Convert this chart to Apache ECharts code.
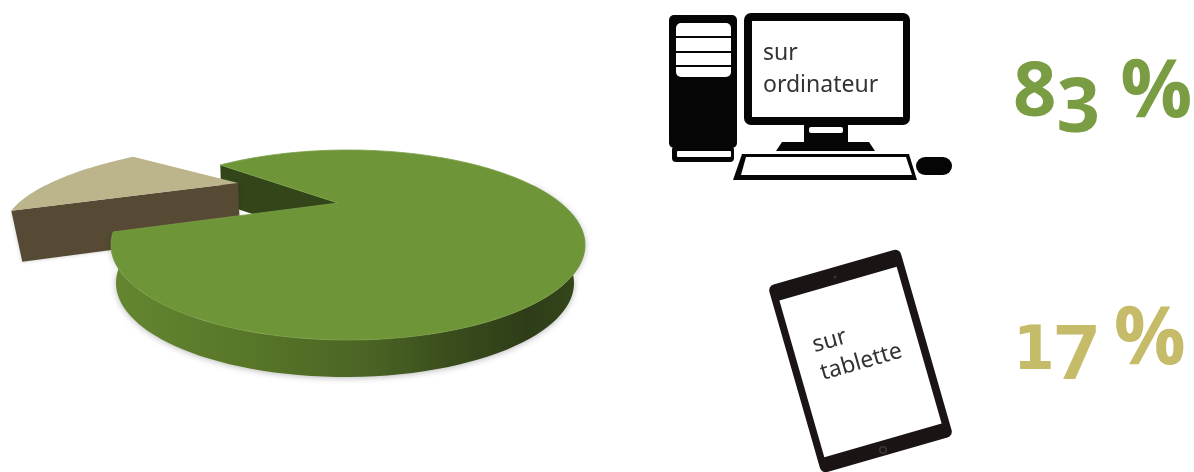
<!DOCTYPE html>
<html>
<head>
<meta charset="utf-8">
<style>html,body{margin:0;padding:0;background:#fff}#chart{width:1194px;height:472px}</style>
<script src="https://cdn.jsdelivr.net/npm/echarts@6/dist/echarts.min.js"></script>
</head>
<body>
<div id="chart"></div>
<script>
// Share of use per device
const devices = ['sur\nordinateur', 'sur\ntablette'];
const shares = [83, 17];
const percentColors = ['#7a9c42', '#c5bb68'];

// Perspective disc: top ellipse, bottom ellipse, and where the disc centre lands
const topRim = { cx: 348, cy: 245, rx: 237, ry: 95 };
const bottomRim = { cx: 345, cy: 283, rx: 229, ry: 94 };
const pull = [-0.042, -0.442];
const startDeg = 222;

// Moves a point of the unit disc so its centre lands on `pull` (projective disc map)
function project(a, rim) {
  const p = [Math.cos(a), Math.sin(a)];
  const d = pull[0] * p[0] + pull[1] * p[1];
  const g = 1 / Math.sqrt(1 - pull[0] * pull[0] - pull[1] * pull[1]);
  const k = g / (1 + g) * d + 1;
  const q = [(pull[0] * k + p[0] / g) / (1 + d), (pull[1] * k + p[1] / g) / (1 + d)];
  return [rim.cx + rim.rx * q[0], rim.cy + rim.ry * q[1]];
}
function apexOf(rim) {
  return [rim.cx + rim.rx * pull[0], rim.cy + rim.ry * pull[1]];
}
function arc(fromDeg, toDeg, rim) {
  const out = [];
  const n = Math.ceil(Math.abs(toDeg - fromDeg) / 2);
  for (let i = 0; i <= n; i++) {
    out.push(project((fromDeg + (toDeg - fromDeg) * i / n) * Math.PI / 180, rim));
  }
  return out;
}

// The pulled-out slice sits further left, flatter and slightly sheared
const sliceOffset = [-100, -20];
const sliceShear = [0.975, -0.261, -0.0245, 0.766];
function moveSlice(pt) {
  const a = apexOf(topRim);
  const x = pt[0] - a[0], y = pt[1] - a[1];
  return [a[0] + sliceOffset[0] + sliceShear[0] * x + sliceShear[1] * y,
          a[1] + sliceOffset[1] + sliceShear[2] * x + sliceShear[3] * y];
}

function renderSlice(params, api) {
  const before = shares.slice(0, params.dataIndex).reduce((s, v) => s + v, 0);
  const total = shares.reduce((s, v) => s + v, 0);
  const from = startDeg + before / total * 360;
  const to = from + api.value(0) / total * 360;
  const apex = apexOf(topRim);
  const children = [];
  const poly = (points, fill, z2, extra) => ({
    type: 'polygon', z2, shape: { points }, style: Object.assign({ fill }, extra || {})
  });

  if (params.dataIndex === 0) {
    // Inner wall of the notch, then the outer wall, then the top face
    children.push(poly([project(from * Math.PI / 180, topRim), apex, apexOf(bottomRim),
      project(from * Math.PI / 180, bottomRim)], '#33461a', 1));
    const wallTop = arc(-14, to - 360, topRim);
    const wallBottom = arc(-14, to - 360, bottomRim).reverse();
    children.push(poly(wallTop.concat(wallBottom), '#4f6a25', 4, {
      fill: new echarts.graphic.LinearGradient(0, 0, 1, 0, [
        { offset: 0, color: '#648630' },
        { offset: 0.3, color: '#577628' },
        { offset: 0.55, color: '#4a6324' },
        { offset: 0.72, color: '#394d1c' },
        { offset: 0.88, color: '#2e3d18' },
        { offset: 1, color: '#35481b' }
      ]),
      shadowColor: 'rgba(0,0,0,0.28)', shadowBlur: 6, shadowOffsetY: 1
    }));
    children.push(poly(arc(from, to, topRim).concat([apex]), '#6f9539', 5, {
      stroke: '#7b9f46', lineWidth: 0.8
    }));
  } else {
    // Side face first so the top face overlaps its edge
    const outer = moveSlice(project(from * Math.PI / 180, topRim));
    const tip = moveSlice(apex);
    children.push(poly([outer, tip, [tip[0] + 2, tip[1] + 50], [outer[0] + 11, outer[1] + 51]],
      '#564a35', 2, { shadowColor: 'rgba(0,0,0,0.2)', shadowBlur: 4 }));
    children.push(poly(arc(from, to, topRim).map(moveSlice).concat([tip]), '#bcb48b', 3));
  }
  return { type: 'group', children };
}

const black = '#050505';
const white = '#ffffff';
const box = (x, y, width, height, r, fill) => ({
  type: 'rect', shape: { x, y, width, height, r }, style: { fill }
});
const shape = (points, fill) => ({ type: 'polygon', shape: { points }, style: { fill } });

const desktopIcon = [
  box(669, 15, 68, 133, 5, black),
  box(672, 146, 62, 16, 4, black),
  box(677, 151, 54, 6, 1, white),
  box(676, 23, 55, 54, 5, white),
  box(676, 36, 55, 2, 0, black),
  box(676, 51, 55, 2, 0, black),
  box(676, 65, 55, 2, 0, black),
  box(744, 13, 166, 112, 7, black),
  box(752, 21, 151, 96, 0, white),
  box(804, 124, 44, 19, 0, black),
  box(809, 127, 34, 6, 2, white),
  shape([[782, 142], [869, 142], [875, 151], [776, 151]], black),
  shape([[742, 154], [909, 154], [917, 180], [733, 180]], black),
  shape([[746, 157], [906, 157], [912, 175], [741, 175]], white),
  box(916, 157, 36, 18, 9, black)
];

const tabletTilt = 16 * Math.PI / 180;
const tilted = (cx, cy, w, h, r, fill) => ({
  type: 'rect', x: cx, y: cy, rotation: tabletTilt,
  shape: { x: -w / 2, y: -h / 2, width: w, height: h, r }, style: { fill }
});
const tabletIcon = [
  tilted(860.5, 361, 137, 195, 6, '#1a1414'),
  tilted(860.5, 362, 122, 163, 0, white),
  { type: 'circle', shape: { cx: 835, cy: 277, r: 1.5 }, style: { fill: '#3a3434' } },
  { type: 'circle', shape: { cx: 883, cy: 450, r: 4 }, style: { fill: '#3d3636' } },
  { type: 'circle', shape: { cx: 883, cy: 450, r: 2.4 }, style: { fill: '#1a1414' } }
];

const captionFont = '"Noto Sans", sans-serif';
const captions = [
  { type: 'text', x: 763, y: 37, style: {
    text: devices[0], fill: '#333', font: '23px ' + captionFont, lineHeight: 32 } },
  { type: 'text', x: 809, y: 332, rotation: tabletTilt, style: {
    text: devices[1], fill: '#333', font: '23px ' + captionFont, lineHeight: 29 } }
];

// Old-style figures: each digit sits on its own height in the line
const figure = { fontFamily: '"Open Sans"', fontWeight: 'bold', lineHeight: 76 };
const richFor = (fill) => ({
  up: Object.assign({}, figure, { fill, fontSize: 76, height: 60, verticalAlign: 'top' }),
  down: Object.assign({}, figure, { fill, fontSize: 76, height: 60, verticalAlign: 'bottom' }),
  pct: Object.assign({}, figure, { fill, fontSize: 80, height: 60, verticalAlign: 'top' }),
  gap: Object.assign({}, figure, { fill, fontSize: 78, height: 60, verticalAlign: 'top' }),
  gapSmall: Object.assign({}, figure, { fill, fontSize: 60, height: 60, verticalAlign: 'top' }),
  low: { fill, fontSize: 60, fontFamily: 'DejaVu Sans', fontWeight: 'bold', height: 67, lineHeight: 76, verticalAlign: 'bottom' }
});
const percentLabels = [
  { type: 'text', x: 1013, y: 64, style: {
    text: `{up|${String(shares[0])[0]}}{down|${String(shares[0])[1]}}{gap| }{pct|%}`,
    fill: percentColors[0], rich: richFor(percentColors[0]) } },
  { type: 'text', x: 1013, y: 311, style: {
    text: `{low|${String(shares[1])[0]}}{down|${String(shares[1])[1]}}{gapSmall| }{pct|%}`,
    fill: percentColors[1], rich: richFor(percentColors[1]) } }
];

const chart = echarts.init(document.getElementById('chart'));
chart.setOption({
  animation: false,
  backgroundColor: '#fff',
  series: [{
    type: 'custom',
    coordinateSystem: 'none',
    renderItem: renderSlice,
    data: shares.map((v) => [v]),
    silent: true
  }],
  graphic: desktopIcon.concat(tabletIcon, captions, percentLabels)
});
</script>
</body>
</html>
